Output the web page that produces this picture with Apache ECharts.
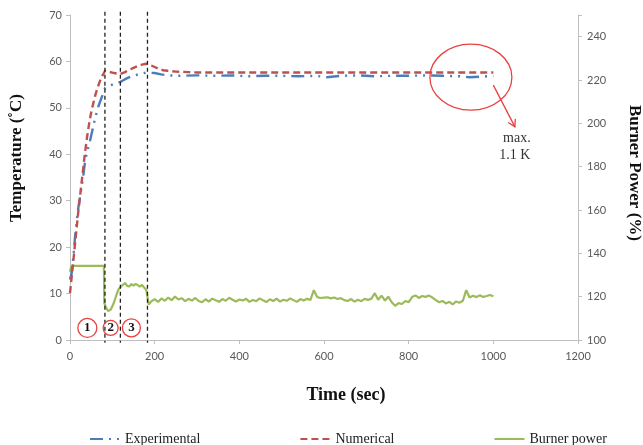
<!DOCTYPE html>
<html><head><meta charset="utf-8">
<script src="https://cdn.jsdelivr.net/npm/echarts@6/dist/echarts.min.js"></script>
<style>html,body{margin:0;padding:0;background:#fff}#c{width:643px;height:445px}</style>
</head><body><div id="c"></div>
<script>
// ---- data ----
const numTime = [0,5,10,15,20,25,30,35,40,45,50,55,60,65,70,75,80,83,90,100,110,119,130,140,150,160,170,180,183,190,200,210,220,230,250,280,300,400,500,600,700,800,900,1000];
const numTemp = [10.1,14.5,19,23.5,28,32,36,40,43.5,46.5,49,51,52.8,54.3,55.6,56.7,57.5,58.0,57.8,57.6,57.4,57.3,57.7,58.2,58.6,59.0,59.3,59.5,59.5,59.2,58.8,58.4,58.1,58.0,57.8,57.7,57.6,57.6,57.6,57.6,57.6,57.6,57.6,57.6];

const expTime = [0,4,8,12,16,20,25,30,35,40,45,50,55,60,67,75,83,90,100,110,119,125,135,149,165,181,200,215,230,260,300,340,380,420,460,500,540,580,606,640,680,720,760,800,840,880,920,943,970,1000];
const expTemp = [13.0,14.4,18,22.3,25.5,28.7,31.5,34.5,38,40.5,42,44,46,48,50.3,52.3,54.3,54.6,55,55.3,55.6,55.9,56.4,56.9,57.3,57.6,57.5,57.2,57.0,56.9,57.0,56.9,57.0,56.8,56.9,56.9,56.8,56.9,56.6,56.9,57.0,56.8,56.9,56.9,57.0,56.9,56.8,56.6,56.7,56.9];

const powTime = [0,3,80,81,85,90,95,100,105,110,115,119,125,130,135,140,145,150,155,160,165,170,175,180,183,186,
 192,200,208,216,224,232,240,248,256,264,272,280,288,296,
 304,312,320,328,336,344,352,360,368,376,384,392,400,
 408,416,424,432,440,448,456,464,472,480,488,496,504,
 512,520,528,536,544,552,560,568,576,584,592,600,
 608,616,624,632,640,648,656,664,672,680,688,696,704,
 712,720,728,736,744,752,760,768,776,784,792,800,
 808,816,824,832,840,848,856,864,872,880,888,896,904,
 912,920,928,936,944,952,960,968,976,984,992,1000];
const powVal = [131.5,134.2,134.2,117,115,113.4,113.8,115.5,118,121,123.5,124.2,125.5,126.3,125,124.7,125.8,125.1,125.9,125.3,124.6,125.4,124.2,123.2,120,116.3,
 117.8,118.9,117.6,119.2,118.1,119.6,118.4,120.1,118.7,119.3,117.9,119.0,118.2,119.4,
 118.0,117.4,118.8,117.7,119.1,118.3,117.6,118.9,118.1,119.5,118.6,117.8,118.7,
 118.2,119.0,117.6,118.5,117.9,119.2,118.3,117.5,118.8,118.0,119.1,117.7,118.6,
 118.1,119.2,118.4,117.6,118.9,118.2,119.0,118.5,123.0,119.8,119.4,119.6,
 119.7,119.2,119.6,118.9,119.3,118.4,118.0,118.9,117.7,118.6,117.9,119.0,118.5,
 119.1,121.6,118.6,120.5,118.2,120.0,117.4,115.8,117.0,116.6,118.0,117.5,
 119.8,120.6,119.4,120.3,119.9,120.5,119.6,118.4,117.4,118.0,116.9,117.6,116.4,
 117.8,117.2,118.1,123.0,119.6,120.4,119.8,120.6,119.9,120.3,120.8,120.2];

const phaseLines = [82.5, 119, 183];
const phaseLabels = ['1','2','3'];
const phaseLabelTime = [41, 96, 145];
const phaseLabelTemp = 2.6;
const phaseRadius = [9.5, 7.5, 9];

const seriesNames = ['Experimental','Numerical','Burner power'];

// ---- chart ----
const zip = (a,b) => a.map((t,i)=>[t,b[i]]);
const chart = echarts.init(document.getElementById('c'));
const axisLineC = '#BFBFBF';
const tickFont = {color:'#595959', fontFamily:'Lato', fontSize:11};

chart.setOption({
  animation:false,
  backgroundColor:'#fff',
  grid:{left:70, right:65, top:15, bottom:105},
  legend:{
    data:seriesNames, left:84, top:427, itemGap:99, itemWidth:30, itemHeight:10,
    itemStyle:{opacity:0},
    textStyle:{fontFamily:'Liberation Serif', fontSize:14, color:'#222'}
  },
  xAxis:{
    type:'value', min:0, max:1200, interval:200,
    axisLine:{lineStyle:{color:axisLineC}}, axisTick:{length:4, lineStyle:{color:axisLineC}},
    splitLine:{show:false}, axisLabel:Object.assign({margin:11, formatter:v=>String(v)}, tickFont)
  },
  yAxis:[
    {type:'value', min:0, max:70, interval:10, position:'left',
     axisLine:{show:true, lineStyle:{color:axisLineC}}, axisTick:{show:true, length:4, lineStyle:{color:axisLineC}},
     splitLine:{show:false}, axisLabel:Object.assign({margin:8}, tickFont)},
    {type:'value', min:100, max:250, interval:20, position:'right',
     axisLine:{show:true, lineStyle:{color:axisLineC}}, axisTick:{show:true, length:4, lineStyle:{color:axisLineC}},
     splitLine:{show:false}, axisLabel:Object.assign({margin:9, formatter:v=> v>240?'':String(v)}, tickFont)}
  ],
  series:[
    {name:'Experimental', type:'line', data:zip(expTime,expTemp), symbol:'none', z:3,
     lineStyle:{color:'#4A7EBB', width:2.4, type:[13,6,2,6,2,6]}, itemStyle:{color:'#4A7EBB'}},
    {name:'Numerical', type:'line', data:zip(numTime,numTemp), symbol:'none', z:4,
     lineStyle:{color:'#C0504D', width:2.4, type:[7,4]}, itemStyle:{color:'#C0504D'}},
    {name:'Burner power', type:'line', yAxisIndex:1, data:zip(powTime,powVal), symbol:'none', z:2,
     lineStyle:{color:'#9BBB59', width:2.2}, itemStyle:{color:'#9BBB59'}}
  ]
});

const P = (t,v) => chart.convertToPixel({xAxisIndex:0, yAxisIndex:0}, [t,v]);
const g = [];
phaseLines.forEach(t=>{
  const a = P(t,70.7), b = P(t,-0.6);
  g.push({type:'line', shape:{x1:a[0],y1:a[1],x2:b[0],y2:b[1]}, style:{stroke:'#222', lineWidth:1.3, lineDash:[4,3]}, z:10});
});
phaseLabels.forEach((s,i)=>{
  const c = P(phaseLabelTime[i], phaseLabelTemp);
  g.push({type:'circle', shape:{cx:c[0], cy:c[1], r:phaseRadius[i]}, style:{fill:'none', stroke:'#E8413F', lineWidth:1.3}, z:11});
  g.push({type:'text', x:c[0], y:c[1], style:{text:s, fill:'#111', font:'bold 13px "Liberation Serif"', align:'center', verticalAlign:'middle'}, z:12});
});
// ellipse highlighting deviation
const ec = P(947, 56.6);
g.push({type:'ellipse', shape:{cx:ec[0], cy:ec[1], rx:41, ry:33}, style:{fill:'none', stroke:'#E8413F', lineWidth:1.3}, z:11});
const s0 = P(1000, 54.9), s1 = P(1051, 45.9);
g.push({type:'line', shape:{x1:s0[0],y1:s0[1],x2:s1[0],y2:s1[1]}, style:{stroke:'#E8413F', lineWidth:1.3}, z:11});
{
  const dx = s1[0]-s0[0], dy = s1[1]-s0[1], L = Math.hypot(dx,dy), ux = dx/L, uy = dy/L, h = 8, ang = Math.PI/6;
  const p1 = [s1[0] - h*(ux*Math.cos(ang) - uy*Math.sin(ang)), s1[1] - h*(uy*Math.cos(ang) + ux*Math.sin(ang))];
  const p2 = [s1[0] - h*(ux*Math.cos(-ang) - uy*Math.sin(-ang)), s1[1] - h*(uy*Math.cos(-ang) + ux*Math.sin(-ang))];
  g.push({type:'polyline', shape:{points:[p1, s1, p2]}, style:{fill:'none', stroke:'#E8413F', lineWidth:1.3}, z:11});
}
const m1 = P(1023, 43.5), m2 = P(1014, 39.8);
g.push({type:'text', x:m1[0], y:m1[1], style:{text:'max.', fill:'#333', font:'14px "Liberation Serif"', align:'left', verticalAlign:'middle'}});
g.push({type:'text', x:m2[0], y:m2[1], style:{text:'1.1 K', fill:'#333', font:'14px "Liberation Serif"', align:'left', verticalAlign:'middle'}});
// axis titles
g.push({type:'text', x:17, y:158, rotation:Math.PI/2, style:{text:'Temperature (˚C)', fill:'#111', font:'bold 17px "Liberation Serif"', align:'center', verticalAlign:'middle'}});
g.push({type:'text', x:634, y:173, rotation:-Math.PI/2, style:{text:'Burner Power (%)', fill:'#111', font:'bold 17px "Liberation Serif"', align:'center', verticalAlign:'middle'}});
g.push({type:'text', x:346, y:395, style:{text:'Time (sec)', fill:'#111', font:'bold 18px "Liberation Serif"', align:'center', verticalAlign:'middle'}});
chart.setOption({graphic:g});
</script>
</body></html>
